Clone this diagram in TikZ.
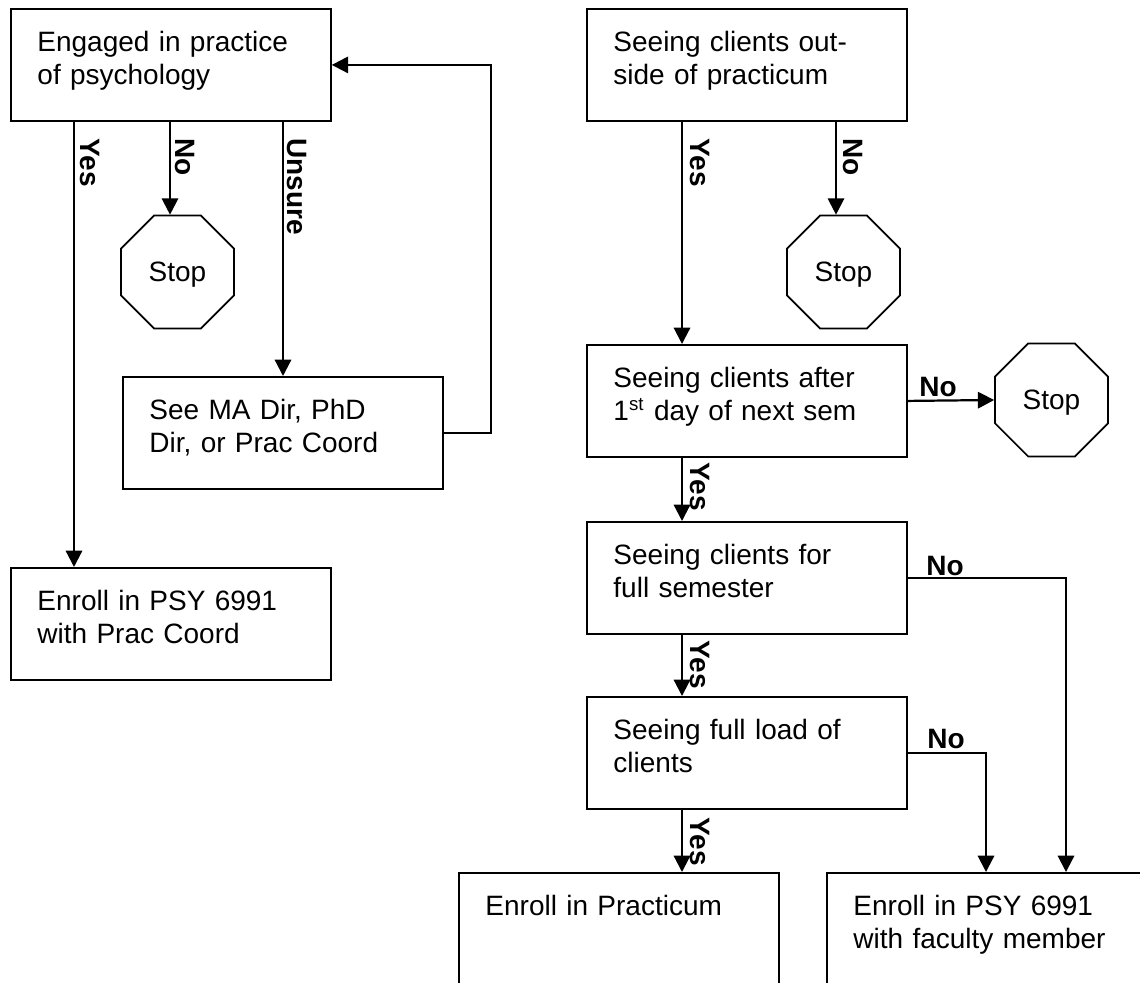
\documentclass[tikz,border=0pt]{standalone}
\usepackage{fontspec}
\setmainfont{Liberation Sans}
\usetikzlibrary{shapes.geometric}
\usetikzlibrary{arrows.meta}

\newcommand{\chartfont}{\fontsize{12pt}{14.1pt}\selectfont}

\begin{document}
\begin{tikzpicture}[
    x=0.4286pt, y=-0.4286pt,
    box/.style={rectangle, draw, line width=0.8pt, anchor=north west, align=left,
        font=\chartfont, text width=114.4pt, inner xsep=11.36pt, inner ysep=0pt,
        text height=18.43pt, text depth=29.57pt},
    stopsign/.style={regular polygon, regular polygon sides=8, draw, line width=0.7pt,
        font=\chartfont, minimum size=52.4pt, inner sep=0pt, text depth=0pt},
    arrow/.style={-{Triangle[length=7pt, width=7pt]}, line width=0.95pt},
    vlabel/.style={font=\chartfont\bfseries, rotate=-90, anchor=south west, inner sep=0pt},
    hlabel/.style={font=\chartfont\bfseries, anchor=base west, inner sep=0pt}
]
    \useasboundingbox (0,0) rectangle (1140,983);
    \clip (0,0) rectangle (1140,983);

    % Left column
    \node[box] (engaged) at (10,8) {Engaged in practice\\of psychology};
    \node[stopsign] (stop1) at (177.5,272) {Stop};
    \node[box] (seedir) at (122,376) {See MA Dir, PhD\\Dir, or Prac Coord};
    \node[box] (coord) at (10,567) {Enroll in PSY 6991\\with Prac Coord};

    % Right column
    \node[box] (outside) at (586,8) {Seeing clients out-\\side of practicum};
    \node[stopsign] (stop2) at (843.5,272) {Stop};
    \node[box] (nextsem) at (586,344) {Seeing clients after\\1\textsuperscript{st} day of next sem};
    \node[stopsign] (stop3) at (1051.5,400) {Stop};
    \node[box] (fullsem) at (586,521) {Seeing clients for\\full semester};
    \node[box] (fullload) at (586,696) {Seeing full load of\\clients};
    \node[box] (practicum) at (458,872) {Enroll in Practicum};
    \node[box] (faculty) at (826,872) {Enroll in PSY 6991\\with faculty member};

    % Columns of the vertical lines
    \coordinate (yesL) at (74,0);
    \coordinate (noL) at (170,0);
    \coordinate (unsure) at (283,0);
    \coordinate (yesR) at (682,0);
    \coordinate (noR) at (836,0);
    \coordinate (noload) at (986,0);
    \coordinate (nosem) at (1066,0);

    % Connections, left
    \draw[arrow] (engaged.south -| yesL) -- (coord.north -| yesL);
    \draw[arrow] (engaged.south -| noL) -- (stop1.north -| noL);
    \draw[arrow] (engaged.south -| unsure) -- (seedir.north -| unsure);
    \draw[arrow] (seedir.east) -- ++(47,0) |- (engaged.east);

    % Connections, right
    \draw[arrow] (outside.south -| yesR) -- (nextsem.north -| yesR);
    \draw[arrow] (outside.south -| noR) -- (stop2.north -| noR);
    \draw[arrow] (nextsem.east) -- (stop3.west);
    \draw[arrow] (nextsem.south -| yesR) -- (fullsem.north -| yesR);
    \draw[arrow] (fullsem.east) -| (faculty.north -| nosem);
    \draw[arrow] (fullsem.south -| yesR) -- (fullload.north -| yesR);
    \draw[arrow] (fullload.east) -| (faculty.north -| noload);
    \draw[arrow] (fullload.south -| yesR) -- (practicum.north -| yesR);

    % Labels
    \node[vlabel] (yes1) at (80,138) {Yes};
    \node[vlabel] (no1) at (175,138) {No};
    \node[vlabel] (unsure1) at (287,138) {Unsure};
    \node[vlabel] (yes2) at (690,138) {Yes};
    \node[vlabel] (no2) at (843,138) {No};
    \node[vlabel] (yes3) at (690,462) {Yes};
    \node[vlabel] (yes4) at (690,640) {Yes};
    \node[vlabel] (yes5) at (690,817) {Yes};
    \node[hlabel] (no3) at (919,397) {No};
    \node[hlabel] (no4) at (926,575) {No};
    \node[hlabel] (no5) at (927,748) {No};
\end{tikzpicture}
\end{document}
